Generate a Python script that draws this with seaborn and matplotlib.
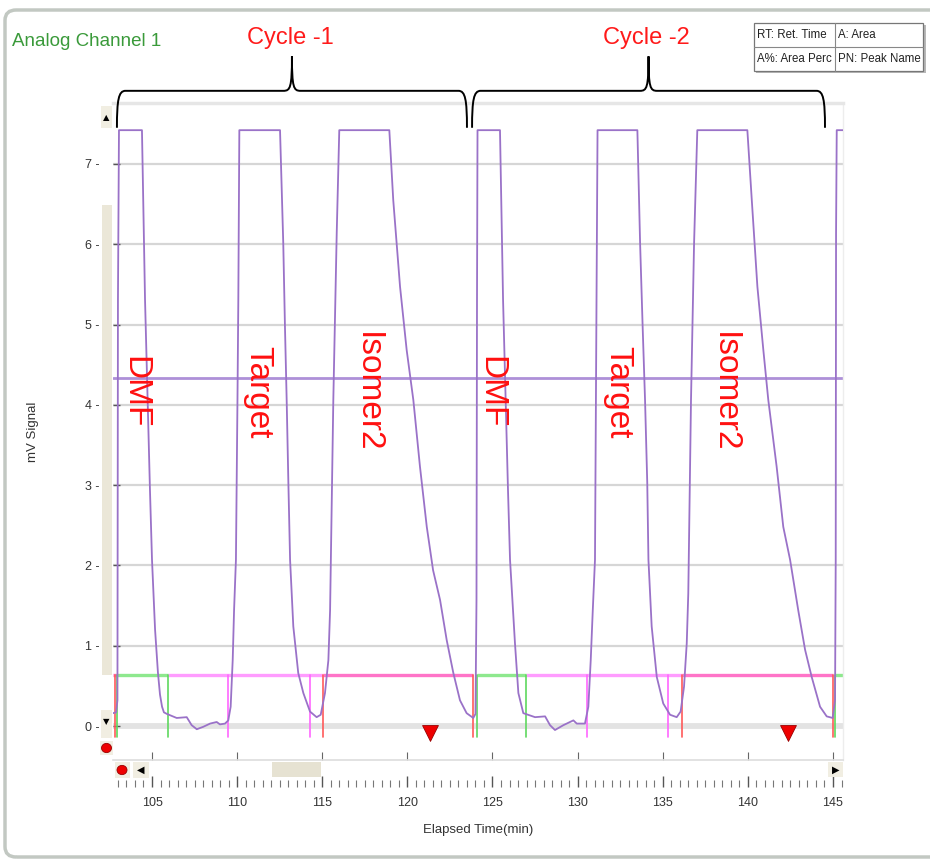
import matplotlib
matplotlib.use('Agg')
import matplotlib.pyplot as plt
import seaborn as sns
import numpy as np
import pandas as pd
from matplotlib.path import Path
from matplotlib.patches import PathPatch, Rectangle, FancyBboxPatch, Circle

# ── trace (time in min, signal in mV) ────────────────────────────────────
cycle1_t = [102.71, 102.89, 102.97, 103.00, 103.06, 104.41, 104.59, 104.88, 105.00, 105.18,
            105.35, 105.47, 105.59, 105.70, 105.88, 106.45, 107.04, 107.33, 107.63, 108.01,
            108.41, 108.80, 108.99, 109.29, 109.48, 109.62, 109.74, 109.82, 109.93, 110.02,
            110.07, 110.13, 112.52, 112.71, 112.81, 112.91, 113.01, 113.11, 113.30, 113.59,
            113.89, 114.28, 114.67, 114.91, 115.16, 115.36, 115.46, 115.65, 115.85, 116.00,
            118.94, 119.17, 119.57, 119.96, 120.35, 120.74, 121.14, 121.51, 121.92, 122.31,
            122.70, 123.09, 123.48, 123.87]
cycle1_mv = [0.16, 0.17, 0.32, 5.31, 7.42, 7.42, 5.31, 2.94, 2.07, 1.20,
             0.66, 0.39, 0.24, 0.17, 0.15, 0.10, 0.11, 0.01, -0.04, -0.01,
             0.03, 0.05, 0.02, 0.03, 0.07, 0.24, 0.82, 1.44, 2.07, 4.06,
             5.31, 7.42, 7.42, 6.01, 4.97, 4.06, 3.03, 2.07, 1.24, 0.66,
             0.41, 0.18, 0.11, 0.14, 0.41, 0.82, 1.44, 4.06, 6.14, 7.42,
             7.42, 6.55, 5.47, 4.68, 4.06, 3.23, 2.48, 1.94, 1.57, 1.07,
             0.66, 0.32, 0.16, 0.10]

cycle2_t = [124.00, 124.06, 124.09, 124.12, 125.44, 125.62, 125.91, 126.03, 126.32, 126.52,
            126.81, 127.50, 128.09, 128.38, 128.67, 129.16, 129.75, 129.95, 130.43, 130.63,
            130.77, 130.89, 131.02, 131.11, 131.17, 133.51, 133.67, 133.82, 133.96, 134.09,
            134.16, 134.35, 134.65, 135.03, 135.43, 135.82, 136.05, 136.25, 136.41, 136.50,
            136.66, 136.84, 137.03, 139.97, 140.23, 140.56, 140.91, 141.20, 141.69, 142.08,
            142.48, 142.96, 143.36, 143.75, 144.24, 144.63, 144.98, 145.12, 145.16, 145.18,
            145.22, 145.61]
cycle2_mv = [0.15, 1.57, 5.31, 7.42, 7.42, 5.31, 2.94, 2.07, 1.03, 0.41,
             0.16, 0.11, 0.12, 0.01, -0.05, 0.01, 0.07, 0.03, 0.03, 0.24,
             0.82, 1.44, 2.07, 5.31, 7.42, 7.42, 6.01, 4.97, 4.06, 3.03,
             2.07, 1.24, 0.61, 0.28, 0.14, 0.11, 0.18, 0.49, 1.03, 1.65,
             4.06, 6.01, 7.42, 7.42, 6.55, 5.47, 4.68, 4.06, 3.23, 2.48,
             2.07, 1.44, 0.95, 0.61, 0.24, 0.12, 0.10, 0.32, 2.07, 6.14,
             7.42, 7.42]

threshold_mv = 4.33

# peak labels
peak_names = ['DMF', 'Target', 'Isomer2', 'DMF', 'Target', 'Isomer2']
peak_label_t = [104.00, 111.20, 117.66, 124.91, 132.37, 138.63]
peak_label_mv = 4.16

# baseline / integration events
baseline_mv = 0.635
event_low_mv = -0.14
event_t = [102.83, 102.96, 105.96, 109.48, 114.28, 115.06, 123.87,
           124.07, 126.97, 130.53, 135.33, 136.11, 144.98, 145.12]
event_peak = ['Isomer2', 'DMF', 'DMF', 'Target', 'Target', 'Isomer2', 'Isomer2',
              'DMF', 'DMF', 'Target', 'Target', 'Isomer2', 'Isomer2', 'DMF']
seg_start = [102.71, 102.96, 105.96, 115.06, 124.07, 126.97, 136.11, 145.12]
seg_end = [102.96, 105.96, 115.06, 123.87, 126.97, 136.11, 144.98, 145.59]
seg_peak = ['Isomer2', 'DMF', 'Target', 'Isomer2', 'DMF', 'Target', 'Isomer2', 'DMF']

inject_t = [121.33, 142.37]
inject_mv = -0.09

# cycles (brace spans)
cycle_names = ['Cycle -1', 'Cycle -2']
cycle_start = [102.94, 123.80]
cycle_end = [123.50, 144.53]

y_ticks = [0, 1, 2, 3, 4, 5, 6, 7]
x_major = [105, 110, 115, 120, 125, 130, 135, 140, 145]
x_minor_step = 0.5
x_range = (102.709, 145.588)
y_range = (-0.4234, 7.7584)

# ── style ─────────────────────────────────────────────────────
sns.set_theme(style='white')
plt.rcParams['font.family'] = ['Liberation Sans', 'DejaVu Sans']

W, H = 930, 861
fig = plt.figure(figsize=(W / 100, H / 100), dpi=100)
fig.patch.set_facecolor('white')


def fx(x):
    return x / W


def fy(y):
    return 1 - y / H


def px_rect(x0, y0, x1, y1, **kw):
    return Rectangle((fx(x0), fy(y1)), (x1 - x0) / W, (y1 - y0) / H,
                     transform=fig.transFigure, **kw)


ax = fig.add_axes([fx(113), fy(760), (843 - 113) / W, (760 - 103) / H])
ax.set_xlim(*x_range)
ax.set_ylim(*y_range)
ax.set_facecolor('white')

# gridlines
for v in y_ticks[1:]:
    ax.axhline(v, color='#d6d6d6', lw=1.6, zorder=0)
ax.axhline(0, color='#e3e3e3', lw=4.2, zorder=0)

# main trace
trace = pd.DataFrame({'t': cycle1_t + cycle2_t, 'mv': cycle1_mv + cycle2_mv})
sns.lineplot(data=trace, x='t', y='mv', sort=False, estimator=None,
             color='#9a72c8', linewidth=1.3, ax=ax, zorder=3)

ax.axhline(threshold_mv, color='#ae90d8', lw=2.0, zorder=2)

# baseline segments and event marks
seg_colors = {'DMF': '#8ee88e', 'Target': '#ff9cff', 'Isomer2': '#ff74c8'}
tick_colors = {'DMF': '#5fd85f', 'Target': '#ff66ff', 'Isomer2': '#ff5a5a'}
for s, e, p in zip(seg_start, seg_end, seg_peak):
    ax.plot([s, e], [baseline_mv, baseline_mv], color=seg_colors[p], lw=2.4,
            solid_capstyle='butt', zorder=2)
for t, p in zip(event_t, event_peak):
    ax.plot([t, t], [baseline_mv, event_low_mv], color=tick_colors[p], lw=1.2, zorder=2)

ax.scatter(inject_t, [inject_mv] * len(inject_t), marker='v', s=130,
           color='#ee0000', edgecolor='#990000', linewidth=0.6, zorder=4)

# peak names
for name, t in zip(peak_names, peak_label_t):
    ax.text(t, peak_label_mv, name, rotation=270, ha='center', va='center',
            color='#ff1010', fontsize=24, zorder=5)

# cycle braces
for name, s, e in zip(cycle_names, cycle_start, cycle_end):
    m = (s + e) / 2
    y0, y1, y2 = 7.45, 7.91, 8.34
    verts = [(s, y0), (s, 7.80), (s + 0.1, y1), (s + 0.5, y1),
             (m - 0.5, y1),
             (m - 0.1, y1), (m, 7.95), (m, y2),
             (m, 7.95), (m + 0.1, y1), (m + 0.5, y1),
             (e - 0.5, y1),
             (e - 0.1, y1), (e, 7.80), (e, y0)]
    codes = [Path.MOVETO, Path.CURVE4, Path.CURVE4, Path.CURVE4,
             Path.LINETO,
             Path.CURVE4, Path.CURVE4, Path.CURVE4,
             Path.CURVE4, Path.CURVE4, Path.CURVE4,
             Path.LINETO,
             Path.CURVE4, Path.CURVE4, Path.CURVE4]
    ax.add_patch(PathPatch(Path(verts, codes), fill=False, ec='black', lw=1.4,
                           clip_on=False, zorder=5))
    ax.text(m - 0.1, 8.57, name, ha='center', va='center', color='#ff1a1a',
            fontsize=17, clip_on=False)

# axes cosmetics
ax.set_yticks(y_ticks)
ax.set_yticklabels([f'{v} -' for v in y_ticks])
ax.set_xticks(x_major)
ax.tick_params(axis='y', direction='in', length=5, width=1, color='#555555',
               pad=10, labelsize=9, labelcolor='#333333', left=True)
ax.tick_params(axis='x', direction='in', length=6, width=0.8, color='#666666',
               bottom=True, labelbottom=False)
ax.set_xlabel('')
ax.set_ylabel('')
ax.spines['left'].set_visible(False)
ax.spines['top'].set_color('#e6e6e6')
ax.spines['top'].set_linewidth(2.5)
ax.spines['right'].set_color('#ededed')
ax.spines['right'].set_linewidth(1)
ax.spines['bottom'].set_color('#dddddd')
ax.spines['bottom'].set_linewidth(1.2)

# second tick row with labels
ax2 = fig.add_axes([fx(113), fy(787), (843 - 113) / W, 10 / H])
ax2.set_facecolor('none')
for sp in ax2.spines.values():
    sp.set_visible(False)
ax2.set_xlim(*x_range)
ax2.set_yticks([])
ax2.set_xticks(x_major)
ax2.set_xticklabels([str(v) for v in x_major])
ax2.set_xticks(np.arange(103.0, 145.6, x_minor_step), minor=True)
ax2.tick_params(axis='x', which='major', direction='in', length=8, width=1,
                color='#555555', pad=7, labelsize=9, labelcolor='#333333', bottom=True)
ax2.tick_params(axis='x', which='minor', direction='in', length=5, width=0.8,
                color='#777777', bottom=True)

# ── UI decorations (scrollbars, buttons, frame, legend table) ───
beige = '#ebe7d8'
fig.patches.append(px_rect(102, 205, 112, 675, fc=beige, ec='none', zorder=3))
fig.patches.append(px_rect(101, 106, 112, 128, fc='#f1eee2', ec='none', zorder=3))
fig.text(fx(106.5), fy(118), '▲', ha='center', va='center', fontsize=6,
         color='black', family=['DejaVu Sans'])
fig.patches.append(px_rect(101, 710, 112, 738, fc='#f1eee2', ec='none', zorder=3))
fig.text(fx(106.5), fy(722), '▼', ha='center', va='center', fontsize=6,
         color='black', family=['DejaVu Sans'])
fig.patches.append(px_rect(100, 741, 113, 755, fc='#f1eee2', ec='none', zorder=3))
fig.patches.append(Circle((fx(106.5), fy(748)), 5.0 / W, transform=fig.transFigure,
                          fc='#ee0000', ec='#990000', lw=0.6, zorder=4))
fig.patches.append(px_rect(115, 762, 130, 778, fc='#f1eee2', ec='none', zorder=3))
fig.patches.append(Circle((fx(122), fy(770)), 5.0 / W, transform=fig.transFigure,
                          fc='#ee0000', ec='#990000', lw=0.6, zorder=4))
fig.patches.append(px_rect(133, 762, 149, 778, fc='#f1eee2', ec='none', zorder=3))
fig.text(fx(141), fy(770), '◀', ha='center', va='center', fontsize=7,
         color='black', family=['DejaVu Sans'])
fig.patches.append(px_rect(272, 762, 321, 777, fc='#e6e2d2', ec='none', zorder=3))
fig.patches.append(px_rect(828, 762, 843, 777, fc='#f1eee2', ec='none', zorder=3))
fig.text(fx(835.5), fy(769.5), '▶', ha='center', va='center', fontsize=7,
         color='black', family=['DejaVu Sans'])

# outer rounded frame
fig.patches.append(FancyBboxPatch((fx(5), fy(857)), (945 - 5) / W, (857 - 10) / H,
                                  boxstyle='round,pad=0,rounding_size=0.012',
                                  transform=fig.transFigure, fill=False,
                                  ec='#c2c8c2', lw=2.5, zorder=1))

# legend table
fig.patches.append(px_rect(756, 25, 926, 73, fc='#b8b8b8', ec='none', zorder=3))
fig.patches.append(px_rect(754, 23, 923, 71, fc='white', ec='#777777', lw=0.9, zorder=4))
fig.lines.append(plt.Line2D([fx(754), fx(923)], [fy(47), fy(47)], transform=fig.transFigure,
                            color='#888888', lw=0.8, zorder=5))
fig.lines.append(plt.Line2D([fx(835), fx(835)], [fy(23), fy(71)], transform=fig.transFigure,
                            color='#888888', lw=0.8, zorder=5))
for txt, x, y in [('RT: Ret. Time', 757, 35), ('A: Area', 838, 35),
                  ('A%: Area Perc', 757, 59), ('PN: Peak Name', 838, 59)]:
    fig.text(fx(x), fy(y), txt, ha='left', va='center', fontsize=8.3, color='#222222',
             zorder=6)

# titles and axis labels
fig.text(fx(12), fy(41), 'Analog Channel 1', ha='left', va='center', fontsize=13.5,
         color='#3a9a3a')
fig.text(fx(33), fy(432), 'mV Signal', rotation=90, ha='center', va='center',
         fontsize=9.5, color='#333333')
fig.text(fx(478), fy(830), 'Elapsed Time(min)', ha='center', va='center',
         fontsize=9.5, color='#333333')

fig.savefig('out.png', dpi=100)
plt.close(fig)
